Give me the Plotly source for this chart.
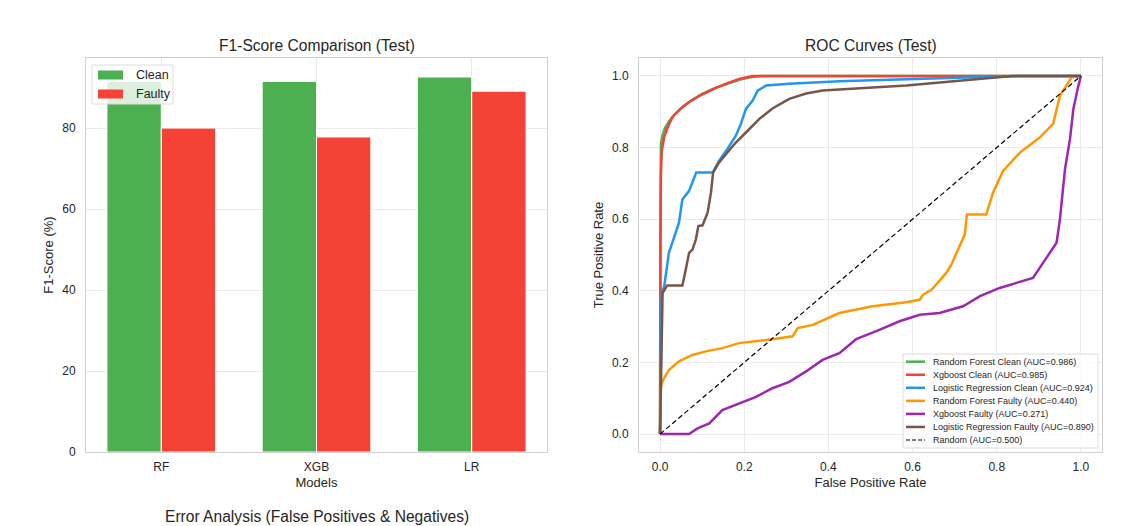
import plotly.graph_objects as go

# ---------------- data ----------------
models = ["RF", "XGB", "LR"]
f1_clean = [91.5, 91.5, 92.6]
f1_faulty = [80.0, 77.8, 89.1]

rf_clean_fpr = [0.0, 0.0, 0.001, 0.002, 0.006, 0.012, 0.022, 0.035, 0.055, 0.075, 0.1, 0.13, 0.16, 0.19, 0.215, 0.24, 1.0]
rf_clean_tpr = [0.0, 0.3, 0.6, 0.81, 0.835, 0.855, 0.874, 0.893, 0.915, 0.932, 0.95, 0.966, 0.979, 0.99, 0.996, 1.0, 1.0]
xgb_clean_fpr = [0.0, 0.0, 0.001, 0.002, 0.004, 0.01, 0.02, 0.03, 0.05, 0.07, 0.1, 0.13, 0.16, 0.19, 0.21, 0.22, 1.0]
xgb_clean_tpr = [0.0, 0.3, 0.55, 0.72, 0.79, 0.83, 0.862, 0.886, 0.91, 0.928, 0.948, 0.965, 0.98, 0.992, 0.998, 1.0, 1.0]
lr_clean_fpr = [0.0, 0.004, 0.01, 0.021, 0.029, 0.045, 0.053, 0.069, 0.086, 0.125, 0.14, 0.16, 0.18, 0.192, 0.204, 0.22, 0.232, 0.252, 0.307, 0.426, 0.585, 0.744, 0.862, 1.0]
lr_clean_tpr = [0.0, 0.394, 0.413, 0.506, 0.534, 0.59, 0.655, 0.679, 0.73, 0.73, 0.763, 0.796, 0.833, 0.866, 0.908, 0.931, 0.959, 0.973, 0.978, 0.985, 0.991, 0.996, 1.0, 1.0]
rf_faulty_fpr = [0.0, 0.002, 0.007, 0.021, 0.045, 0.077, 0.109, 0.148, 0.188, 0.228, 0.267, 0.315, 0.327, 0.363, 0.398, 0.426, 0.505, 0.585, 0.617, 0.625, 0.645, 0.664, 0.68, 0.692, 0.708, 0.724, 0.729, 0.775, 0.791, 0.815, 0.855, 0.902, 0.934, 0.95, 0.978, 1.0]
rf_faulty_tpr = [0.0, 0.13, 0.151, 0.179, 0.203, 0.221, 0.231, 0.24, 0.254, 0.259, 0.265, 0.273, 0.296, 0.305, 0.324, 0.338, 0.357, 0.368, 0.375, 0.389, 0.403, 0.427, 0.45, 0.473, 0.515, 0.557, 0.613, 0.613, 0.674, 0.735, 0.786, 0.828, 0.866, 0.945, 0.996, 1.0]
xgb_faulty_fpr = [0.0, 0.069, 0.089, 0.117, 0.148, 0.188, 0.228, 0.267, 0.307, 0.347, 0.386, 0.426, 0.466, 0.521, 0.569, 0.617, 0.664, 0.72, 0.76, 0.807, 0.886, 0.91, 0.942, 0.95, 0.962, 0.974, 0.982, 0.994, 1.0]
xgb_faulty_tpr = [0.0, 0.0, 0.016, 0.03, 0.067, 0.086, 0.104, 0.128, 0.146, 0.175, 0.207, 0.226, 0.265, 0.291, 0.315, 0.333, 0.338, 0.357, 0.385, 0.408, 0.436, 0.478, 0.534, 0.599, 0.739, 0.824, 0.908, 0.973, 1.0]
lr_faulty_fpr = [0.0, 0.004, 0.006, 0.017, 0.053, 0.061, 0.069, 0.077, 0.085, 0.091, 0.101, 0.113, 0.121, 0.126, 0.14, 0.16, 0.18, 0.204, 0.236, 0.267, 0.307, 0.347, 0.386, 0.426, 0.585, 0.744, 0.838, 1.0]
lr_faulty_tpr = [0.0, 0.33, 0.394, 0.415, 0.415, 0.459, 0.506, 0.515, 0.543, 0.581, 0.583, 0.618, 0.674, 0.73, 0.758, 0.786, 0.814, 0.842, 0.88, 0.909, 0.936, 0.951, 0.959, 0.962, 0.973, 0.99, 1.0, 1.0]
random_fpr = [0.0, 1.0]
random_tpr = [0.0, 1.0]

CLEAN_COLOR = "#4CAF50"
FAULTY_COLOR = "#F44336"

bar_series = [("Clean", f1_clean, CLEAN_COLOR), ("Faulty", f1_faulty, FAULTY_COLOR)]

roc_series = [
    ("Random Forest Clean (AUC=0.986)", rf_clean_fpr, rf_clean_tpr, "#4CAF50"),
    ("Xgboost Clean (AUC=0.985)", xgb_clean_fpr, xgb_clean_tpr, "#F44336"),
    ("Logistic Regression Clean (AUC=0.924)", lr_clean_fpr, lr_clean_tpr, "#2196F3"),
    ("Random Forest Faulty (AUC=0.440)", rf_faulty_fpr, rf_faulty_tpr, "#FF9800"),
    ("Xgboost Faulty (AUC=0.271)", xgb_faulty_fpr, xgb_faulty_tpr, "#9C27B0"),
    ("Logistic Regression Faulty (AUC=0.890)", lr_faulty_fpr, lr_faulty_tpr, "#795548"),
]
random_name = "Random (AUC=0.500)"

# ---------------- layout helpers ----------------
W, H = 1122, 526
def px_x(p):
    return p / W
def px_y(p):
    return (H - p) / H

FONT = "Liberation Sans, Arial, sans-serif"
TXT = "#262626"
GRID = "#ebebeb"
EDGE = "#d0d0d0"
TITLE_SIZE = 15.6

fig = go.Figure()

for name, vals, col in bar_series:
    fig.add_trace(go.Bar(x=models, y=vals, name=name, marker=dict(color=col, line=dict(color="white", width=1)),
                         xaxis="x", yaxis="y", showlegend=False))

for name, fx, ty, col in roc_series:
    fig.add_trace(go.Scatter(x=fx, y=ty, mode="lines", name=name, line=dict(color=col, width=2.5),
                             xaxis="x2", yaxis="y2", showlegend=False))
fig.add_trace(go.Scatter(x=random_fpr, y=random_tpr, mode="lines", name=random_name,
                         line=dict(color="black", width=1.2, dash="5px,3px"),
                         xaxis="x2", yaxis="y2", showlegend=False))

def axis_common(xlike):
    return dict(showgrid=True, gridcolor=GRID, gridwidth=1, showline=True, linecolor=EDGE, linewidth=1, mirror=True,
                zeroline=False, ticks="", tickfont=dict(family=FONT, size=12, color=TXT),
                ticklabelstandoff=4 if xlike else 7, automargin=False,
                title_font=dict(family=FONT, size=13, color=TXT))

shapes = []
annotations = []

# ---- bar legend (manual, matplotlib-like) ----
shapes.append(dict(type="rect", xref="paper", yref="paper", x0=px_x(92), x1=px_x(173), y0=px_y(104), y1=px_y(65),
                   fillcolor="rgba(255,255,255,0.8)", line=dict(color="#dddddd", width=1), layer="above"))
for i, (name, vals, col) in enumerate(bar_series):
    yc = 75 + i * 19
    shapes.append(dict(type="rect", xref="paper", yref="paper", x0=px_x(98), x1=px_x(123),
                       y0=px_y(yc + 4.5), y1=px_y(yc - 4.5), fillcolor=col, line=dict(width=0), layer="above"))
    annotations.append(dict(text=name, x=px_x(134), y=px_y(yc), xref="paper", yref="paper", showarrow=False,
                            xanchor="left", yanchor="middle", font=dict(family=FONT, size=12.5, color=TXT)))

# ---- ROC legend (manual) ----
shapes.append(dict(type="rect", xref="paper", yref="paper", x0=px_x(903), x1=px_x(1098), y0=px_y(448), y1=px_y(354),
                   fillcolor="rgba(255,255,255,0.8)", line=dict(color="#dddddd", width=1), layer="above"))
legend_items = [(n, dict(color=c, width=2.5)) for n, _, _, c in roc_series] + \
               [(random_name, dict(color="black", width=1.2, dash="4px,2px"))]
for i, (name, ln) in enumerate(legend_items):
    yc = 361.7 + i * 13.05
    shapes.append(dict(type="line", xref="paper", yref="paper", x0=px_x(906), x1=px_x(925),
                       y0=px_y(yc), y1=px_y(yc), line=ln, layer="above"))
    annotations.append(dict(text=name, x=px_x(931), y=px_y(yc), xref="paper", yref="paper", showarrow=False,
                            xanchor="left", yanchor="middle", font=dict(family=FONT, size=9, color=TXT)))

annotations += [
    dict(text="F1-Score Comparison (Test)", x=px_x(316.5), y=px_y(46), xref="paper", yref="paper",
         showarrow=False, xanchor="center", yanchor="middle", font=dict(family=FONT, size=TITLE_SIZE, color=TXT)),
    dict(text="ROC Curves (Test)", x=px_x(870.5), y=px_y(46), xref="paper", yref="paper",
         showarrow=False, xanchor="center", yanchor="middle", font=dict(family=FONT, size=TITLE_SIZE, color=TXT)),
    dict(text="Error Analysis (False Positives & Negatives)", x=px_x(316.5), y=px_y(516.5), xref="paper", yref="paper",
         showarrow=False, xanchor="center", yanchor="middle", font=dict(family=FONT, size=TITLE_SIZE, color=TXT)),
]

fig.update_layout(
    width=W, height=H,
    margin=dict(l=0, r=0, t=0, b=0, autoexpand=False),
    paper_bgcolor="white", plot_bgcolor="white",
    font=dict(family=FONT, color=TXT),
    showlegend=False,
    barmode="group", bargap=0.3, bargroupgap=0,
    xaxis=dict(domain=[px_x(86), px_x(547)], anchor="y", range=[-0.485, 2.485],
               title=dict(text="Models", standoff=4), **axis_common(True)),
    yaxis=dict(domain=[px_y(452), px_y(58)], anchor="x", range=[0, 97.3], tickvals=[0, 20, 40, 60, 80],
               title=dict(text="F1-Score (%)", standoff=5), **axis_common(False)),
    xaxis2=dict(domain=[px_x(639), px_x(1102)], anchor="y2", range=[-0.05, 1.05],
                tickvals=[0, 0.2, 0.4, 0.6, 0.8, 1.0], tickformat=".1f",
                title=dict(text="False Positive Rate", standoff=4), **axis_common(True)),
    yaxis2=dict(domain=[px_y(452), px_y(58)], anchor="x2", range=[-0.05, 1.05],
                tickvals=[0, 0.2, 0.4, 0.6, 0.8, 1.0], tickformat=".1f",
                title=dict(text="True Positive Rate", standoff=5), **axis_common(False)),
    shapes=shapes,
    annotations=annotations,
)

fig.write_html("out.html")
